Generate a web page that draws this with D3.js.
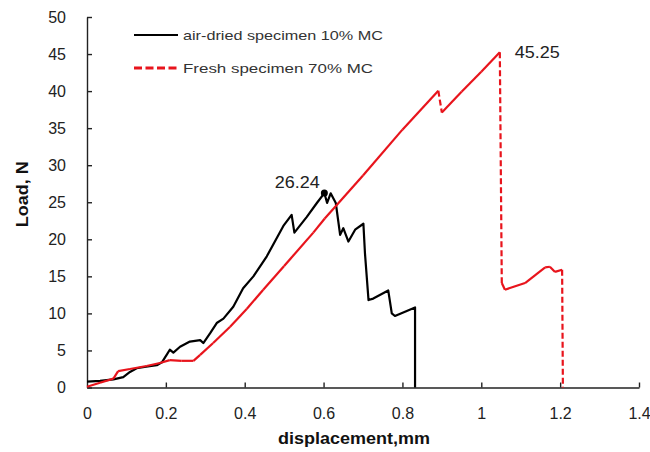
<!DOCTYPE html>
<html>
<head>
<meta charset="utf-8">
<script src="https://cdn.jsdelivr.net/npm/d3@7"></script>
<style>
  html, body { margin: 0; padding: 0; background: #fff; }
  svg { display: block; font-family: "Liberation Sans", Arial, sans-serif; }
</style>
</head>
<body>
<svg id="chart" width="650" height="452"></svg>
<script>
// ---- data ----
const xTicks = [0, 0.2, 0.4, 0.6, 0.8, 1, 1.2, 1.4];
const yTicks = [0, 5, 10, 15, 20, 25, 30, 35, 40, 45, 50];

const airDriedX = [0, 0.033, 0.067, 0.092, 0.109, 0.126, 0.15, 0.177, 0.19, 0.202, 0.21, 0.219, 0.236, 0.261, 0.287, 0.295, 0.312, 0.329, 0.346, 0.371, 0.396, 0.422, 0.456, 0.498, 0.519, 0.526, 0.557, 0.583, 0.602, 0.609, 0.618, 0.631, 0.642, 0.65, 0.663, 0.68, 0.701, 0.705, 0.714, 0.726, 0.764, 0.773, 0.781, 0.832, 0.832];
const airDriedY = [0.8, 0.9, 1.1, 1.4, 2.1, 2.6, 2.8, 3.0, 3.4, 4.4, 5.1, 4.7, 5.5, 6.2, 6.4, 6.0, 7.3, 8.7, 9.3, 10.9, 13.4, 15.0, 17.7, 21.8, 23.3, 20.9, 23.0, 24.9, 26.24, 24.9, 26.2, 24.9, 20.6, 21.5, 19.7, 21.3, 22.1, 18.1, 11.8, 12.0, 13.1, 10.0, 9.65, 10.8, 0];

const freshX = [0, 0.033, 0.067, 0.079, 0.109, 0.151, 0.185, 0.21, 0.24, 0.27, 0.287, 0.32, 0.363, 0.405, 0.447, 0.5, 0.574, 0.603, 0.7, 0.8, 0.891, 0.9, 0.95, 1.0, 1.047, 1.052, 1.06, 1.111, 1.162, 1.174, 1.187, 1.205, 1.207];
const freshY = [0.1, 0.65, 1.2, 2.2, 2.5, 2.9, 3.3, 3.7, 3.6, 3.6, 4.4, 6.0, 8.2, 10.6, 13.2, 16.4, 20.9, 22.8, 28.6, 34.8, 40.05, 37.1, 39.9, 42.6, 45.25, 14.1, 13.2, 14.1, 16.2, 16.3, 15.6, 15.9, 0];

const seriesNames = ["air-dried specimen 10% MC", "Fresh specimen 70% MC"];
const peakLabels = ["26.24", "45.25"];

// ---- setup ----
const svg = d3.select("#chart");
const x = d3.scaleLinear().domain([0, 1.4]).range([87, 639]);
const y = d3.scaleLinear().domain([0, 50]).range([387.5, 17]);

const black = "#000000";
const red = "#e8141c";
const axisColor = "#222";

// axes
const xAxis = d3.axisBottom(x).tickValues(xTicks).tickSize(-5).tickSizeOuter(0).tickPadding(20)
  .tickFormat(d => d3.format("")(d));
const yAxis = d3.axisLeft(y).tickValues(yTicks).tickSize(-5).tickSizeOuter(0).tickPadding(21);

const gx = svg.append("g").attr("transform", `translate(0,${y(0)})`).call(xAxis);
const gy = svg.append("g").attr("transform", `translate(${x(0)},0)`).call(yAxis);
[gx, gy].forEach(g => {
  g.select(".domain").attr("stroke", axisColor).attr("stroke-width", 1.4);
  g.selectAll(".tick line").attr("stroke", axisColor).attr("stroke-width", 1.4);
  g.selectAll(".tick text").attr("fill", "#222").attr("font-size", 16)
    .attr("font-family", "'Liberation Sans', Arial, sans-serif");
});
gx.selectAll(".tick").filter(d => d === 0).select("line").remove();

// axis titles
svg.append("text")
  .attr("x", 354).attr("y", 444)
  .attr("text-anchor", "middle")
  .attr("font-size", 17).attr("font-weight", "bold").attr("fill", "#111")
  .attr("textLength", 152).attr("lengthAdjust", "spacingAndGlyphs")
  .text("displacement,mm");

svg.append("text")
  .attr("transform", `translate(28,${y(25) - 8}) rotate(-90)`)
  .attr("text-anchor", "middle")
  .attr("font-size", 17).attr("font-weight", "bold").attr("fill", "#111")
  .attr("textLength", 66).attr("lengthAdjust", "spacingAndGlyphs")
  .text("Load, N");

// lines
const airData = airDriedX.map((v, i) => [v, airDriedY[i]]);
const freshData = freshX.map((v, i) => [v, freshY[i]]);
const line = d3.line().x(d => x(d[0])).y(d => y(d[1]));

svg.append("path").datum(airData)
  .attr("d", line).attr("fill", "none")
  .attr("stroke", black).attr("stroke-width", 2.2).attr("stroke-linejoin", "round");

// fresh: draw segment by segment; steep (vertical) drops appear dashed
const segs = d3.pairs(freshData);
svg.append("g").selectAll("path").data(segs).join("path")
  .attr("d", d => line(d)).attr("fill", "none")
  .attr("stroke", red).attr("stroke-width", 2.2).attr("stroke-linecap", "butt")
  .attr("stroke-dasharray", d => {
    const dx = Math.abs(x(d[1][0]) - x(d[0][0]));
    const dy = Math.abs(y(d[1][1]) - y(d[0][1]));
    return dy > 6 * dx ? "6,3" : null;
  });

// peak marker
const peakIdx = airDriedY.indexOf(d3.max(airDriedY));
svg.append("circle")
  .attr("cx", x(airDriedX[peakIdx])).attr("cy", y(airDriedY[peakIdx]))
  .attr("r", 3.5).attr("fill", black);

// peak labels
const freshPeakIdx = freshY.indexOf(d3.max(freshY));
svg.append("text")
  .attr("x", x(airDriedX[peakIdx]) - 27).attr("y", y(airDriedY[peakIdx]) - 5)
  .attr("text-anchor", "middle").attr("font-size", 16).attr("fill", "#222")
  .attr("textLength", 45).attr("lengthAdjust", "spacingAndGlyphs")
  .text(peakLabels[0]);
svg.append("text")
  .attr("x", x(freshX[freshPeakIdx]) + 15).attr("y", y(freshY[freshPeakIdx]) + 6)
  .attr("font-size", 16).attr("fill", "#222")
  .attr("textLength", 45).attr("lengthAdjust", "spacingAndGlyphs")
  .text(peakLabels[1]);

// legend
const legend = svg.append("g");
const legendRows = [
  { name: seriesNames[0], color: black, dash: null, yy: 35, len: 200 },
  { name: seriesNames[1], color: red, dash: "8,3.5", yy: 68, len: 190 }
];
legendRows.forEach(r => {
  legend.append("line")
    .attr("x1", 134).attr("x2", 178).attr("y1", r.yy).attr("y2", r.yy)
    .attr("stroke", r.color).attr("stroke-width", r.dash ? 3 : 2)
    .attr("stroke-dasharray", r.dash);
  legend.append("text")
    .attr("x", 183).attr("y", r.yy + 4.5)
    .attr("font-size", 13).attr("fill", "#333")
    .attr("textLength", r.len).attr("lengthAdjust", "spacingAndGlyphs")
    .text(r.name);
});
</script>
</body>
</html>
